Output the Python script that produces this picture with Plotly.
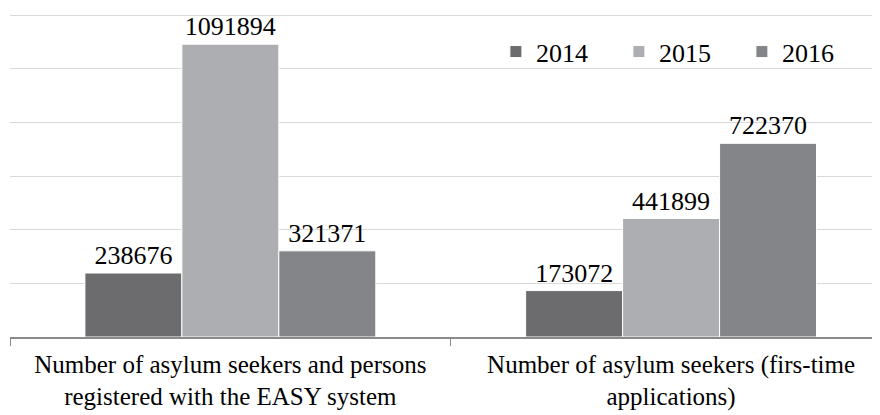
import plotly.graph_objects as go

categories = [
    "Number of asylum seekers and persons<br>registered with the EASY system",
    "Number of asylum seekers (firs-time<br>applications)",
]
years = ["2014", "2015", "2016"]
values_2014 = [238676, 173072]
values_2015 = [1091894, 441899]
values_2016 = [321371, 722370]

series = [values_2014, values_2015, values_2016]
colors = ["#6c6c6f", "#adaeb1", "#848589"]
FONT = "'Times New Roman', Tinos, 'Liberation Serif', 'DejaVu Serif', Times, serif"

fig = go.Figure()
for name, vals, col in zip(years, series, colors):
    fig.add_trace(go.Bar(
        name=name, x=categories, y=vals,
        marker=dict(color=col, line=dict(color="white", width=1)),
        text=[str(v) for v in vals], textposition="outside",
        textfont=dict(family=FONT, size=26, color="black"),
        cliponaxis=False,
    ))

fig.update_layout(
    width=872, height=407,
    margin=dict(l=2, r=0, t=4, b=78),
    paper_bgcolor="white", plot_bgcolor="white",
    barmode="group", bargap=0.34, bargroupgap=0,
    font=dict(family=FONT, size=26, color="black"),
    showlegend=True,
    legend=dict(
        orientation="h", x=0.5585, xanchor="left", y=0.878, yanchor="middle",
        font=dict(family=FONT, size=26, color="black"),
        entrywidth=78, entrywidthmode="pixels",
        itemwidth=30, bgcolor="rgba(0,0,0,0)",
    ),
    xaxis=dict(
        range=[-0.5, 1.474], showgrid=False, automargin=False,
        showline=True, linecolor="#8a8a8a", linewidth=1.5,
        ticks="outside", tickson="boundaries", ticklen=7, tickcolor="#8a8a8a",
        tickfont=dict(family=FONT, size=25, color="black"),
        ticklabelstandoff=4,
    ),
    yaxis=dict(
        range=[0, 1212000], dtick=200000, showticklabels=False,
        showgrid=True, gridcolor="#d9d9d9", gridwidth=1,
        zeroline=False, showline=False, automargin=False,
    ),
)

fig.write_html("out.html")
